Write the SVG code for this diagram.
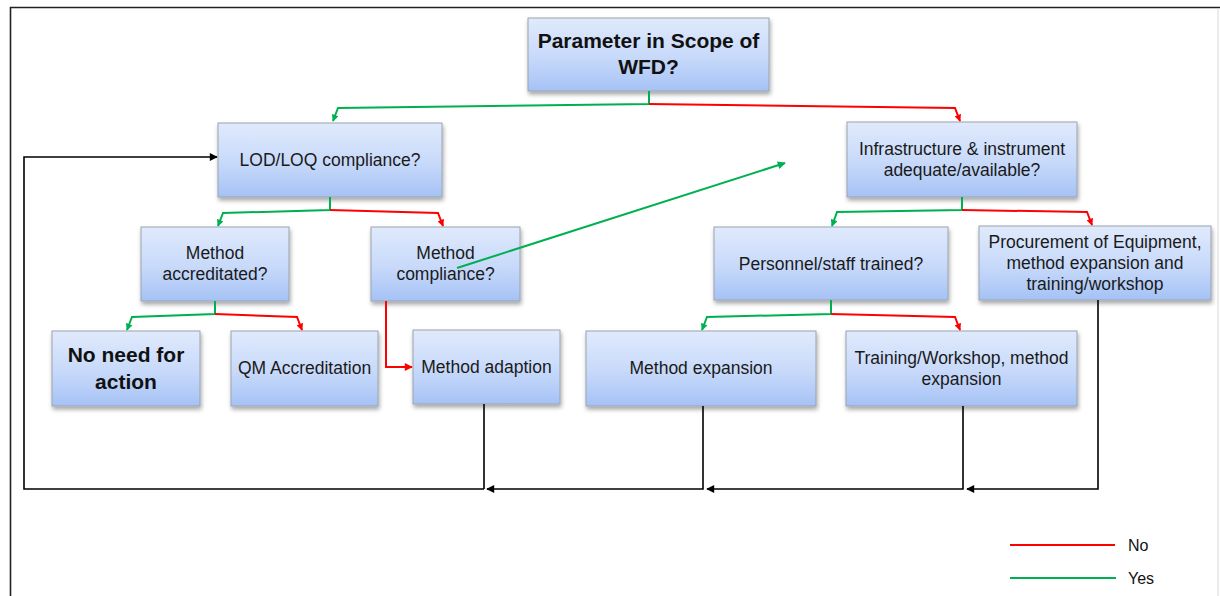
<svg xmlns="http://www.w3.org/2000/svg" width="1220" height="596" viewBox="0 0 1220 596">
<defs>
<linearGradient id="g" x1="0" y1="0" x2="0" y2="1">
<stop offset="0" stop-color="#e0eafc"/>
<stop offset="0.55" stop-color="#c7d9fa"/>
<stop offset="1" stop-color="#a5c2f5"/>
</linearGradient>
<filter id="sh" x="-10%" y="-10%" width="125%" height="135%">
<feDropShadow dx="1" dy="3" stdDeviation="2" flood-color="#000" flood-opacity="0.35"/>
</filter>
<marker id="ag" viewBox="0 0 10 10" refX="9" refY="5" markerWidth="8" markerHeight="7" orient="auto" markerUnits="userSpaceOnUse"><path d="M0,0 L10,5 L0,10 z" fill="#00b050"/></marker>
<marker id="ar" viewBox="0 0 10 10" refX="9" refY="5" markerWidth="8" markerHeight="7" orient="auto" markerUnits="userSpaceOnUse"><path d="M0,0 L10,5 L0,10 z" fill="#ff0000"/></marker>
<marker id="ag2" viewBox="0 0 10 10" refX="9" refY="5" markerWidth="12" markerHeight="8" orient="auto" markerUnits="userSpaceOnUse"><path d="M0,0 L10,5 L0,10 z" fill="#00b050"/></marker>
<marker id="ar2" viewBox="0 0 10 10" refX="9" refY="5" markerWidth="12" markerHeight="8" orient="auto" markerUnits="userSpaceOnUse"><path d="M0,0 L10,5 L0,10 z" fill="#ff0000"/></marker>
<marker id="ab" viewBox="0 0 10 10" refX="9" refY="5" markerWidth="12" markerHeight="8" orient="auto" markerUnits="userSpaceOnUse"><path d="M0,0 L10,5 L0,10 z" fill="#000"/></marker>
</defs>
<style>
.box{fill:url(#g);stroke:#9aa3b0;stroke-width:1;filter:url(#sh)}
.t{font-family:"Liberation Sans",Arial,sans-serif;font-size:17.5px;fill:#1a1a1a;text-anchor:middle}
.b{font-family:"Liberation Sans",Arial,sans-serif;font-size:21px;font-weight:bold;fill:#111;text-anchor:middle}
.y{fill:none;stroke:#00b050;stroke-width:2}
.n{fill:none;stroke:#ff0000;stroke-width:2}
.k{fill:none;stroke:#000;stroke-width:1.6}
.lg{font-family:"Liberation Sans",Arial,sans-serif;font-size:16px;fill:#111}
</style>
<rect width="1220" height="596" fill="#fff"/>
<path d="M10.5,596 V7.5 H1220" fill="none" stroke="#222" stroke-width="1.6"/>
<line x1="1218" y1="8" x2="1218" y2="596" stroke="#d8d8d8" stroke-width="1"/>

<g id="n-scope"><rect class="box" x="528" y="18" width="241" height="73"/><text class="b" x="648.5" y="48">Parameter in Scope of</text><text class="b" x="648.5" y="74">WFD?</text></g>
<g id="n-lod"><rect class="box" x="218" y="123" width="224" height="74"/><text class="t" x="330" y="166">LOD/LOQ compliance?</text></g>
<g id="n-infra"><rect class="box" x="847" y="122" width="230" height="75"/><text class="t" x="962" y="155">Infrastructure &amp; instrument</text><text class="t" x="962" y="176">adequate/available?</text></g>
<g id="n-accr"><rect class="box" x="141" y="227" width="148" height="74"/><text class="t" x="215" y="259">Method</text><text class="t" x="215" y="280">accreditated?</text></g>
<g id="n-compl"><rect class="box" x="371" y="227" width="149" height="74"/><text class="t" x="445.5" y="259">Method</text><text class="t" x="445.5" y="280">compliance?</text></g>
<g id="n-pers"><rect class="box" x="714" y="227" width="234" height="73"/><text class="t" x="831" y="270">Personnel/staff trained?</text></g>
<g id="n-proc"><rect class="box" x="979" y="226" width="232" height="74"/><text class="t" x="1095" y="248">Procurement of Equipment,</text><text class="t" x="1095" y="269">method expansion and</text><text class="t" x="1095" y="290">training/workshop</text></g>
<g id="n-noneed"><rect class="box" x="52" y="331" width="148" height="75"/><text class="b" x="126" y="362">No need for</text><text class="b" x="126" y="389">action</text></g>
<g id="n-qm"><rect class="box" x="231" y="331" width="147" height="75"/><text class="t" x="304.5" y="374">QM Accreditation</text></g>
<g id="n-adapt"><rect class="box" x="413" y="330" width="147" height="74"/><text class="t" x="486.5" y="373">Method adaption</text></g>
<g id="n-exp"><rect class="box" x="586" y="331" width="230" height="75"/><text class="t" x="701" y="374">Method expansion</text></g>
<g id="n-train"><rect class="box" x="846" y="331" width="231" height="75"/><text class="t" x="961.5" y="364">Training/Workshop, method</text><text class="t" x="961.5" y="385">expansion</text></g>

<g id="connectors">
<polyline class="y" points="649,91 649,104 338,108 333,121" marker-end="url(#ag)"/>
<polyline class="n" points="649,104 955,108 960,121" marker-end="url(#ar)"/>
<polyline class="y" points="330,197 330,210 223,213 218,226" marker-end="url(#ag)"/>
<polyline class="n" points="330,210 438,213 443,226" marker-end="url(#ar)"/>
<polyline class="y" points="215,301 215,314 132,317 127,330" marker-end="url(#ag)"/>
<polyline class="n" points="215,314 297,317 302,330" marker-end="url(#ar)"/>
<polyline class="n" points="386,301 386,367 412,367" marker-end="url(#ar2)"/>
<line class="y" x1="457" y1="268" x2="785" y2="163" marker-end="url(#ag2)"/>
<polyline class="y" points="962,197 962,210 837,212 832,226" marker-end="url(#ag)"/>
<polyline class="n" points="962,210 1087,212 1092,225" marker-end="url(#ar)"/>
<polyline class="y" points="831,300 831,314 707,317 702,330" marker-end="url(#ag)"/>
<polyline class="n" points="831,314 955,317 960,330" marker-end="url(#ar)"/>
<polyline class="k" points="1098,300 1098,489 967,489" marker-end="url(#ab)"/>
<polyline class="k" points="963,406 963,489 707,489" marker-end="url(#ab)"/>
<polyline class="k" points="703,406 703,489 487,489" marker-end="url(#ab)"/>
<line class="k" x1="484" y1="404" x2="484" y2="489"/>
<polyline class="k" points="484,489 24,489 24,157 217,157" stroke-width="2.2" marker-end="url(#ab)"/>
</g>

<g id="legend">
<line x1="1010" y1="545" x2="1115" y2="545" stroke="#ff0000" stroke-width="2"/>
<text class="lg" x="1128" y="551">No</text>
<line x1="1010" y1="578" x2="1116" y2="578" stroke="#00b050" stroke-width="2"/>
<text class="lg" x="1128" y="584">Yes</text>
</g>
</svg>
